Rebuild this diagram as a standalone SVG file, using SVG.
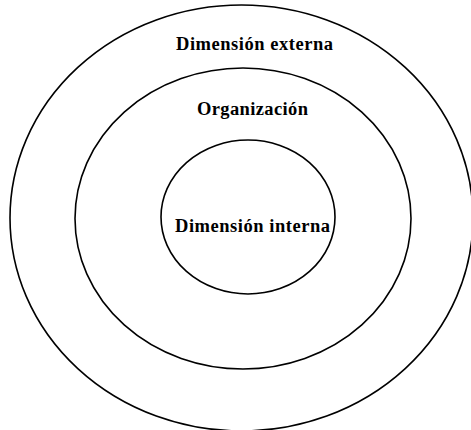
<svg xmlns="http://www.w3.org/2000/svg" width="471" height="430" viewBox="0 0 471 430">
<style>
.ring{fill:none;stroke:#000;stroke-width:1.6}
.lbl{font-family:"Liberation Serif","Times New Roman",serif;font-weight:bold;font-size:18.5px;fill:#000}
</style>
<rect width="471" height="430" fill="#fff"/>
<g id="externa">
<ellipse class="ring" cx="241.5" cy="218" rx="231.5" ry="213"/>
<text class="lbl" x="176" y="50" textLength="157" lengthAdjust="spacing">Dimensión externa</text>
</g>
<g id="organizacion">
<ellipse class="ring" cx="243" cy="218.5" rx="168" ry="150.5"/>
<text class="lbl" x="197" y="115" textLength="111" lengthAdjust="spacing">Organización</text>
</g>
<g id="interna">
<ellipse class="ring" cx="248" cy="217" rx="87" ry="77"/>
<text class="lbl" x="175" y="232" textLength="155" lengthAdjust="spacing">Dimensión interna</text>
</g>
<g id="connectors"/>
</svg>
